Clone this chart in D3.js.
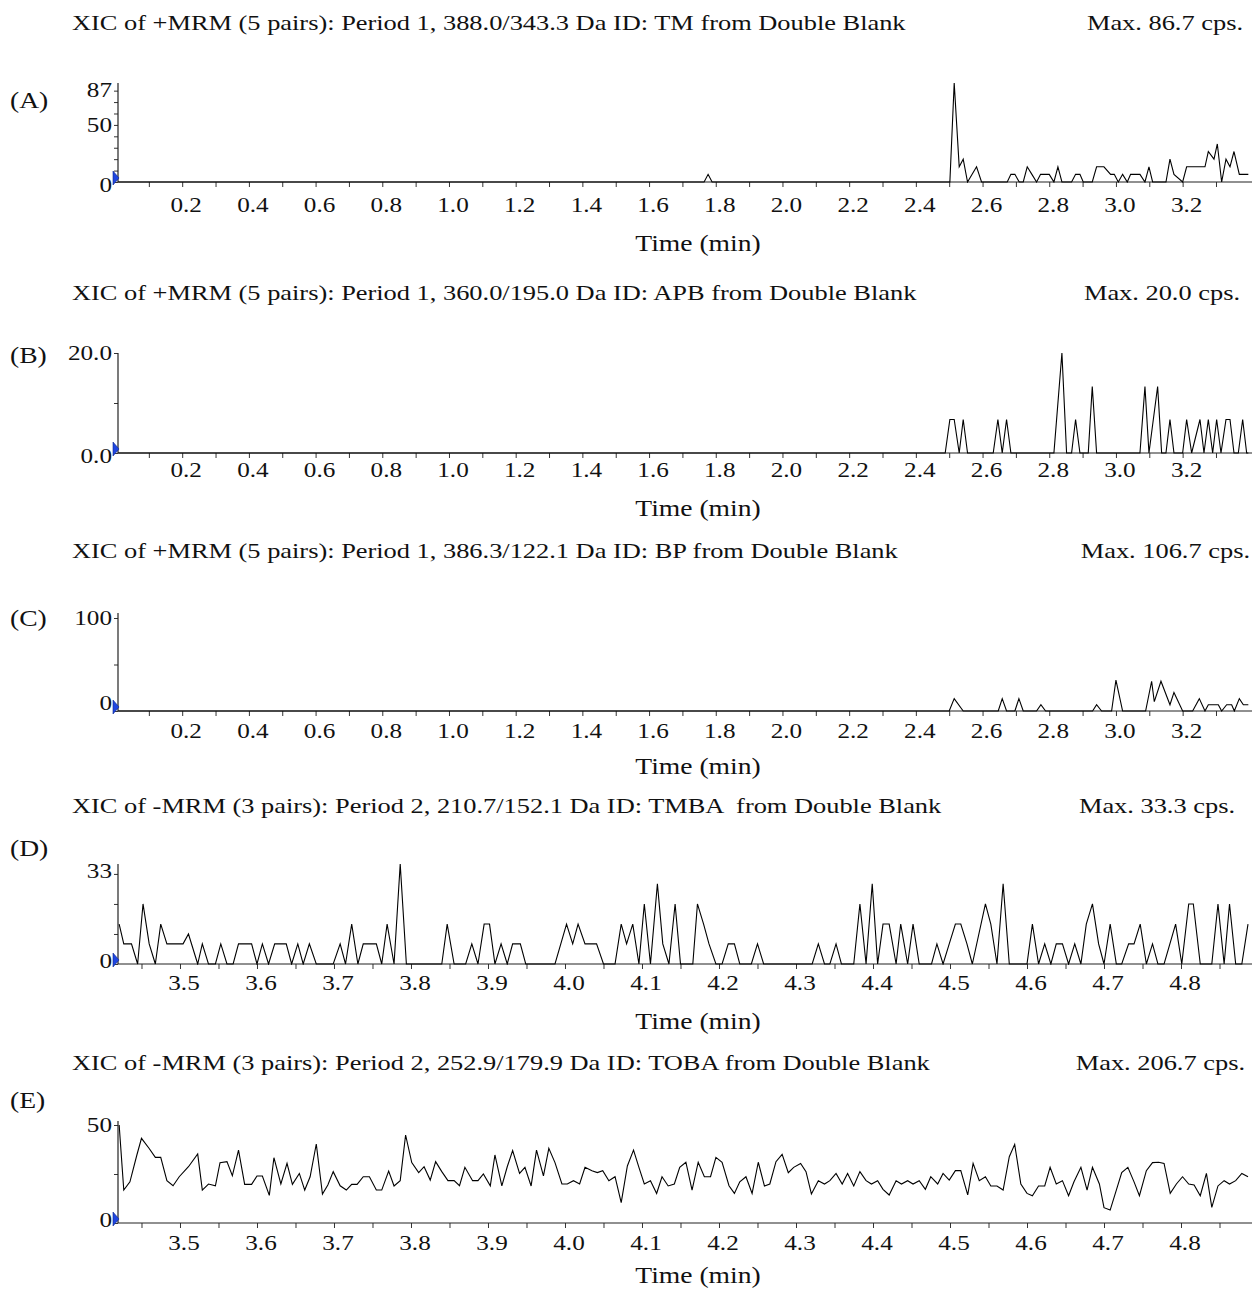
<!DOCTYPE html>
<html lang="en">
<head>
<meta charset="UTF-8">
<script src="https://d3js.org/d3.v7.min.js"></script>
<title>XIC chromatograms - Double Blank</title>
<style>
  body { margin: 0; background: #fff; overflow: hidden; }
  text { font-family: "Liberation Serif", "Times New Roman", serif; fill: #111; white-space: pre; }
</style>
</head>
<body>
<script>
// ---- text ----
const titles = [
  "XIC of +MRM (5 pairs): Period 1, 388.0/343.3 Da ID: TM from Double Blank",
  "XIC of +MRM (5 pairs): Period 1, 360.0/195.0 Da ID: APB from Double Blank",
  "XIC of +MRM (5 pairs): Period 1, 386.3/122.1 Da ID: BP from Double Blank",
  "XIC of -MRM (3 pairs): Period 2, 210.7/152.1 Da ID: TMBA  from Double Blank",
  "XIC of -MRM (3 pairs): Period 2, 252.9/179.9 Da ID: TOBA from Double Blank"
];
const maxLabels = ["Max. 86.7 cps.", "Max. 20.0 cps.", "Max. 106.7 cps.", "Max. 33.3 cps.", "Max. 206.7 cps."];
const panelLetters = ["(A)", "(B)", "(C)", "(D)", "(E)"];
const xLabelsPeriod1 = ["0.2","0.4","0.6","0.8","1.0","1.2","1.4","1.6","1.8","2.0","2.2","2.4","2.6","2.8","3.0","3.2"];
const xLabelsPeriod2 = ["3.5","3.6","3.7","3.8","3.9","4.0","4.1","4.2","4.3","4.4","4.5","4.6","4.7","4.8"];

// ---- traces: [time (min), intensity (cps)] ----
const traceA = [[0.008,0],[1.765,0],[1.777,6.7],[1.789,0],[2.502,0],[2.515,86.7],[2.530,13.3],[2.542,20],[2.555,0],
  [2.582,13.3],[2.597,0],[2.674,0],[2.685,6.7],[2.697,6.7],[2.710,0],[2.722,0],[2.734,13.3],[2.748,6.7],[2.762,0],
  [2.774,6.7],[2.800,6.7],[2.814,0],[2.826,13.3],[2.838,0],[2.867,0],[2.879,6.7],[2.892,6.7],[2.902,0],[2.929,0],
  [2.942,13.3],[2.964,13.3],[2.984,6.7],[2.995,6.7],[3.007,0],[3.020,6.7],[3.034,0],[3.044,6.7],[3.072,6.7],[3.087,0],
  [3.099,13.3],[3.110,0],[3.150,0],[3.162,20],[3.174,6.7],[3.200,0],[3.212,13.3],[3.267,13.3],[3.277,26.7],[3.294,20],
  [3.304,33.3],[3.317,0],[3.330,20],[3.342,13.3],[3.354,26.7],[3.370,6.7],[3.397,6.7]];

const traceB = [[0.008,0],[2.488,0],[2.502,6.7],[2.515,6.7],[2.530,0],[2.542,6.7],[2.555,0],[2.632,0],[2.646,6.7],
  [2.659,0],[2.672,6.7],[2.685,0],[2.814,0],[2.838,20],[2.852,0],[2.867,0],[2.879,6.7],[2.892,0],[2.917,0],[2.929,13.3],
  [2.942,0],[3.072,0],[3.087,13.3],[3.099,0],[3.125,13.3],[3.137,0],[3.150,0],[3.162,6.7],[3.174,0],[3.200,0],
  [3.212,6.7],[3.227,0],[3.252,6.7],[3.264,0],[3.277,6.7],[3.290,0],[3.302,6.7],[3.315,0],[3.330,6.7],[3.342,6.7],
  [3.354,0],[3.367,0],[3.380,6.7],[3.392,0],[3.397,0]];

const traceC = [[0.008,0],[2.500,0],[2.515,13.3],[2.542,0],[2.647,0],[2.659,13.3],[2.672,0],[2.697,0],[2.709,13.3],
  [2.722,0],[2.762,0],[2.775,6.7],[2.789,0],[2.930,0],[2.942,6.7],[2.957,0],[2.987,0],[3.000,33.3],[3.020,0],
  [3.089,0],[3.107,32],[3.115,10],[3.135,32],[3.162,6.7],[3.174,20],[3.200,0],[3.230,0],[3.250,13.3],[3.267,0],
  [3.277,6.7],[3.307,6.7],[3.317,0],[3.332,6.7],[3.347,6.7],[3.355,0],[3.370,13.3],[3.382,6.7],[3.397,6.7]];

const traceD = [[3.421,13.3],[3.427,6.7],[3.437,6.7],[3.445,0],[3.452,20],[3.460,6.7],[3.468,0],[3.475,13.3],
  [3.483,6.7],[3.504,6.7],[3.511,10],[3.523,0],[3.529,6.7],[3.537,0],[3.546,0],[3.553,6.7],[3.561,0],[3.569,0],
  [3.576,6.7],[3.593,6.7],[3.600,0],[3.607,6.7],[3.615,0],[3.623,6.7],[3.638,6.7],[3.645,0],[3.653,6.7],[3.660,0],
  [3.668,6.7],[3.677,0],[3.699,0],[3.708,6.7],[3.715,0],[3.723,13.3],[3.731,0],[3.738,6.7],[3.755,6.7],[3.762,0],
  [3.769,13.3],[3.778,0],[3.786,33.3],[3.794,0],[3.840,0],[3.847,13.3],[3.856,0],[3.871,0],[3.879,6.7],[3.887,0],
  [3.895,13.3],[3.902,13.3],[3.909,0],[3.917,6.7],[3.925,0],[3.932,6.7],[3.942,6.7],[3.949,0],[3.987,0],[4.002,13.3],
  [4.010,6.7],[4.017,13.3],[4.026,6.7],[4.041,6.7],[4.050,0],[4.065,0],[4.073,13.3],[4.080,6.7],[4.088,13.3],[4.096,0],
  [4.103,20],[4.111,0],[4.120,26.7],[4.127,6.7],[4.135,0],[4.143,20],[4.150,0],[4.166,0],[4.172,20],[4.180,13.3],
  [4.187,6.7],[4.196,0],[4.204,0],[4.212,6.7],[4.220,6.7],[4.227,0],[4.242,0],[4.250,6.7],[4.258,0],[4.321,0],
  [4.329,6.7],[4.337,0],[4.344,0],[4.352,6.7],[4.359,0],[4.375,0],[4.383,20],[4.391,0],[4.399,26.7],[4.406,0],
  [4.413,13.3],[4.421,13.3],[4.430,0],[4.436,13.3],[4.445,0],[4.452,13.3],[4.460,0],[4.476,0],[4.483,6.7],[4.491,0],
  [4.499,6.7],[4.507,13.3],[4.514,13.3],[4.522,6.7],[4.529,0],[4.546,20],[4.553,13.3],[4.561,0],[4.569,26.7],[4.577,0],
  [4.600,0],[4.607,13.3],[4.615,0],[4.623,6.7],[4.631,0],[4.638,6.7],[4.646,6.7],[4.654,0],[4.662,6.7],[4.670,0],
  [4.677,13.3],[4.685,20],[4.693,6.7],[4.700,0],[4.708,13.3],[4.716,0],[4.723,0],[4.732,6.7],[4.739,6.7],[4.747,13.3],
  [4.755,0],[4.763,6.7],[4.770,0],[4.778,0],[4.793,13.3],[4.801,0],[4.810,20],[4.816,20],[4.825,0],[4.840,0],
  [4.848,20],[4.856,0],[4.863,20],[4.871,0],[4.879,0],[4.887,13.3]];

const traceE = [[3.421,50],[3.427,16.8],[3.435,21],[3.444,34.7],[3.450,43.2],[3.460,38],[3.468,33.5],[3.475,33.5],
  [3.483,21.6],[3.491,19],[3.499,23.6],[3.511,28.7],[3.523,35.2],[3.529,16.8],[3.537,19.9],[3.546,19],[3.552,30.8],
  [3.561,31.3],[3.568,24.1],[3.576,37.2],[3.584,19.7],[3.593,19.7],[3.600,24],[3.607,24],[3.616,14.1],[3.622,33.3],
  [3.631,19.9],[3.639,30.4],[3.646,19.7],[3.655,25.3],[3.662,16.8],[3.669,23.6],[3.677,40.3],[3.685,14.8],[3.692,19.4],
  [3.699,26.2],[3.708,19],[3.716,16.8],[3.723,19.7],[3.730,19.7],[3.738,23.6],[3.746,23.6],[3.755,16.8],[3.762,16.8],
  [3.771,26.5],[3.778,18.9],[3.786,21.6],[3.793,44.9],[3.801,30.8],[3.810,25.7],[3.817,28.7],[3.825,21.9],[3.832,31.3],
  [3.840,26.2],[3.848,21.6],[3.856,21.6],[3.863,19],[3.870,28.4],[3.880,21.6],[3.887,21.6],[3.894,25],[3.903,19],
  [3.909,34.7],[3.918,18.9],[3.925,28.7],[3.932,36.9],[3.941,25.3],[3.948,28.4],[3.956,18.9],[3.963,37.2],[3.972,24],
  [3.979,38.1],[3.987,30.8],[3.996,19.9],[4.003,19.9],[4.011,21.6],[4.019,19.9],[4.026,28.4],[4.035,26.7],[4.042,25.7],
  [4.049,26.7],[4.057,21.6],[4.065,23.6],[4.073,10.4],[4.081,29.1],[4.089,37.2],[4.096,28.4],[4.103,19.9],[4.111,21.6],
  [4.119,15.1],[4.126,23.6],[4.134,18.9],[4.142,19.9],[4.149,28.4],[4.157,31],[4.165,16.8],[4.173,31],[4.181,23.6],
  [4.189,23.6],[4.196,33.5],[4.204,31],[4.213,19],[4.220,15.1],[4.227,21],[4.235,23.6],[4.243,15.1],[4.251,31],
  [4.259,18.9],[4.266,19.9],[4.274,31.3],[4.282,35],[4.290,25.7],[4.297,28.4],[4.306,30.4],[4.313,26.2],[4.320,14.8],
  [4.329,21.6],[4.337,19.9],[4.344,21.6],[4.352,25.3],[4.360,19.9],[4.367,25.3],[4.375,18.9],[4.383,26.2],[4.391,21.6],
  [4.398,19.9],[4.406,21.6],[4.413,17.2],[4.421,14.3],[4.430,21.6],[4.437,19.9],[4.445,21.6],[4.452,19.9],[4.460,21.6],
  [4.468,17.2],[4.475,23.6],[4.484,19.9],[4.491,25.3],[4.499,21.9],[4.507,26.7],[4.514,26.7],[4.523,14.3],[4.530,30.4],
  [4.538,21.6],[4.546,23.6],[4.553,18.9],[4.561,18.9],[4.569,16.8],[4.577,33.8],[4.584,40.1],[4.592,19.9],[4.600,15.1],
  [4.607,13.9],[4.615,18.9],[4.623,18.9],[4.630,28.4],[4.638,19.9],[4.646,21.6],[4.654,13.9],[4.661,21],[4.670,28.4],
  [4.678,16.8],[4.685,28.4],[4.694,19.9],[4.700,7.8],[4.708,6.6],[4.716,16.8],[4.723,25.7],[4.731,28.4],[4.739,21],
  [4.746,13.9],[4.755,26.7],[4.763,30.8],[4.771,31],[4.778,30.4],[4.786,15.1],[4.794,19.9],[4.802,23.6],[4.810,19.9],
  [4.817,19.4],[4.825,13.9],[4.833,25.3],[4.840,8],[4.848,18.9],[4.856,21.6],[4.863,19.9],[4.871,21.6],[4.879,25.3],
  [4.887,23.6]];

// ---- layout ----
const width = 1254, height = 1289;
const plotLeft = 118, plotRight = 1248;
const TEXT_SX = 1.2; // the scanned figure is stretched horizontally

const panels = [
  { trace: traceA, period: 1, yMax: 86.7, base: 182, top: 83, axisTop: 83, yMinor: 10, yLabels: [0, 50], yFmt: d3.format("d"),
    topLabel: "87", titleY: 22, letterY: 100, labelY: 205, timeY: 243, maxRight: 1243, zeroDy: 3 },
  { trace: traceB, period: 1, yMax: 20, base: 453, top: 353, axisTop: 353, yMinor: 10, yLabels: [0, 20], yFmt: d3.format(".1f"),
    topLabel: null, titleY: 292, letterY: 355, labelY: 470, timeY: 508, maxRight: 1240, zeroDy: 3 },
  { trace: traceC, period: 1, yMax: 100, base: 711, top: 618, axisTop: 613, yMinor: 50, yLabels: [0, 100], yFmt: d3.format("d"),
    topLabel: null, titleY: 550, letterY: 618, labelY: 731, timeY: 766, maxRight: 1250, zeroDy: -8 },
  { trace: traceD, period: 2, yMax: 33.3, base: 964, top: 864, axisTop: 864, yMinor: 10, yLabels: [0], yFmt: d3.format("d"),
    topLabel: "33", titleY: 805, letterY: 848, labelY: 983, timeY: 1021, maxRight: 1235, zeroDy: -3 },
  { trace: traceE, period: 2, yMax: 50, base: 1223, top: 1125, axisTop: 1121, yMinor: 25, yLabels: [0, 50], yFmt: d3.format("d"),
    topLabel: null, titleY: 1062, letterY: 1100, labelY: 1243, timeY: 1275, maxRight: 1245, zeroDy: -3 }
];

const svg = d3.select("body").append("svg")
  .attr("width", width)
  .attr("height", height);

// text with the figure's horizontal stretch
function addText(g, x, y, str, size, anchor) {
  return g.append("text")
    .attr("transform", `translate(${x},${y}) scale(${TEXT_SX},1)`)
    .attr("text-anchor", anchor)
    .attr("dominant-baseline", "central")
    .attr("xml:space", "preserve")
    .style("font-size", size + "px")
    .text(str);
}

panels.forEach((p, i) => {
  const g = svg.append("g").attr("class", "panel");

  const xDomain = p.period === 1 ? [0.0075, 3.396] : [3.4195, 4.887];
  const x = d3.scaleLinear().domain(xDomain).range([plotLeft, plotRight]);
  const y = d3.scaleLinear().domain([0, p.yMax]).range([p.base, p.top]);

  // titles
  addText(g, 72, p.titleY, titles[i], 22, "start");
  addText(g, p.maxRight, p.titleY, maxLabels[i], 22, "end");
  addText(g, 10, p.letterY, panelLetters[i], 23, "start");

  // x axis (ticks only, labels drawn separately)
  const xTicks = p.period === 1
    ? d3.range(1, 34).map(k => +(k * 0.1).toFixed(2))
    : d3.range(69, 98).map(k => +(k * 0.05).toFixed(2));
  g.append("g")
    .attr("transform", `translate(0,${p.base})`)
    .call(d3.axisBottom(x).tickValues(xTicks).tickSize(5).tickSizeOuter(0).tickFormat(""))
    .call(a => a.select(".domain").remove())
    .call(a => a.selectAll("line").attr("stroke", "#333"));
  g.append("line")
    .attr("x1", plotLeft).attr("x2", 1252)
    .attr("y1", p.base).attr("y2", p.base)
    .attr("stroke", "#222").attr("stroke-width", 1.2);

  const xLabels = p.period === 1 ? xLabelsPeriod1 : xLabelsPeriod2;
  xLabels.forEach(lbl => addText(g, x(+lbl) + 4, p.labelY, lbl, 21, "middle"));
  addText(g, 698, p.timeY, "Time (min)", 23, "middle");

  // y axis
  const yTicks = d3.range(0, p.yMax + 0.01, p.yMinor);
  g.append("g")
    .attr("transform", `translate(${plotLeft},0)`)
    .call(d3.axisLeft(y).tickValues(yTicks).tickSize(4).tickSizeOuter(0).tickFormat(""))
    .call(a => a.select(".domain").remove())
    .call(a => a.selectAll("line").attr("stroke", "#333"));
  g.append("line")
    .attr("x1", plotLeft).attr("x2", plotLeft)
    .attr("y1", p.base).attr("y2", p.axisTop)
    .attr("stroke", "#222").attr("stroke-width", 1.2);

  p.yLabels.forEach(v => {
    const dy = v === 0 ? p.zeroDy : 0;
    addText(g, 112, y(v) + dy, p.yFmt(v), 21, "end");
  });
  if (p.topLabel) addText(g, 112, p.top + 7, p.topLabel, 21, "end");

  // clip so the trace stays inside the plot
  const clipId = "clip" + i;
  svg.append("clipPath").attr("id", clipId)
    .append("rect")
    .attr("x", plotLeft).attr("y", p.axisTop - 2)
    .attr("width", plotRight - plotLeft + 2)
    .attr("height", p.base - p.axisTop + 3);

  const line = d3.line()
    .x(d => x(d[0]))
    .y(d => y(d[1]));

  g.append("path")
    .datum(p.trace)
    .attr("clip-path", `url(#${clipId})`)
    .attr("fill", "none")
    .attr("stroke", "#000")
    .attr("stroke-width", 1.1)
    .attr("stroke-linejoin", "miter")
    .attr("d", line);

  // blue start marker at the origin
  g.append("path")
    .attr("d", `M113,${p.base - 11} L119,${p.base - 4} L113,${p.base + 3} Z`)
    .attr("fill", "#1f46e0")
    .attr("stroke", "#0c2690")
    .attr("stroke-width", 0.6);
});
</script>
</body>
</html>
